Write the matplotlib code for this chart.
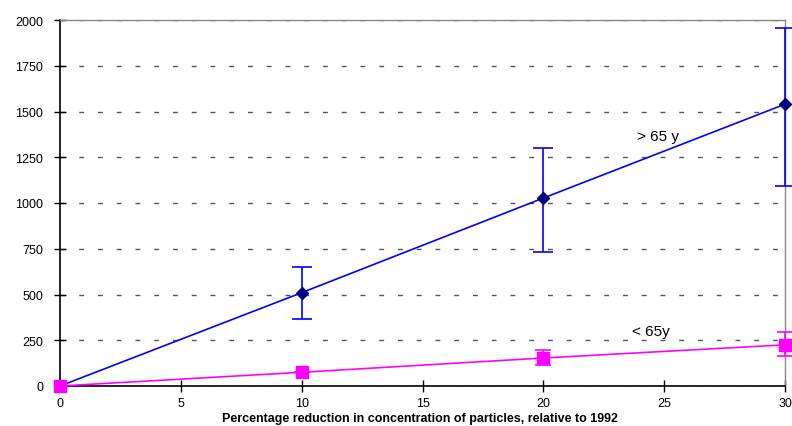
import matplotlib
matplotlib.use("Agg")
import matplotlib.pyplot as plt

# Reduction in particle concentration (%) and estimated effects by age group
reduction = [0, 10, 20, 30]
over65 = [0, 510, 1027, 1540]
over65_lo = [0, 365, 730, 1095]
over65_hi = [0, 650, 1300, 1955]
under65 = [0, 75, 153, 225]
under65_lo = [0, 75, 115, 163]
under65_hi = [0, 75, 197, 295]

xticks = [0, 5, 10, 15, 20, 25, 30]
yticks = [0, 250, 500, 750, 1000, 1250, 1500, 1750, 2000]

plt.rcParams['font.family'] = ['Liberation Sans', 'DejaVu Sans']

fig = plt.figure(figsize=(7.92, 4.27), dpi=100)
ax = fig.add_axes([60 / 792, 40 / 427, 725 / 792, 366 / 427])

def err(vals, lo, hi):
    return [[v - l for v, l in zip(vals, lo)], [h - v for v, h in zip(vals, hi)]]

# Trend lines
ax.plot(reduction, over65, color='#0000FF', lw=1.2, zorder=3, clip_on=False)
ax.plot(reduction, under65, color='#FF00FF', lw=1.2, zorder=3, clip_on=False)

# Error bars
eb1 = ax.errorbar(reduction[1:], over65[1:], yerr=err(over65[1:], over65_lo[1:], over65_hi[1:]),
                  fmt='none', ecolor='#0000FF', elinewidth=1.2, capsize=7, capthick=1.2,
                  zorder=4)
eb2 = ax.errorbar(reduction[1:], under65[1:], yerr=err(under65[1:], under65_lo[1:], under65_hi[1:]),
                  fmt='none', ecolor='#FF00FF', elinewidth=1.2, capsize=6, capthick=1.2,
                  zorder=4)
for eb in (eb1, eb2):
    for art in list(eb.lines[1]) + list(eb.lines[2]):
        art.set_clip_on(False)

# Markers
ax.plot(reduction, over65, linestyle='none', marker='D', markersize=6,
        color='#000080', zorder=5, clip_on=False)
ax.plot(reduction, under65, linestyle='none', marker='s', markersize=8,
        color='#FF00FF', zorder=5, clip_on=False)

ax.set_xlim(0, 30)
ax.set_ylim(0, 2000)
ax.set_xticks(xticks)
ax.set_yticks(yticks)
ax.set_xticklabels([str(t) for t in xticks], fontsize=9)
ax.set_yticklabels([str(t) for t in yticks], fontsize=9)
ax.tick_params(axis='both', direction='inout', length=8, width=1, colors='black')
ax.tick_params(axis='x', pad=4)
ax.tick_params(axis='y', pad=8)

ax.grid(axis='y', color='#555555', linestyle=(0, (3.5, 10)), linewidth=1)
ax.set_axisbelow(True)

for side in ('left', 'bottom'):
    ax.spines[side].set_color('black')
    ax.spines[side].set_linewidth(1.2)
for side in ('top', 'right'):
    ax.spines[side].set_color('#888888')
    ax.spines[side].set_linewidth(1)

fig.text(420 / 792, 8 / 427,
         'Percentage reduction in concentration of particles, relative to 1992',
         fontsize=9, fontweight='bold', ha='center', va='center')

ax.text(24.75, 1366, '> 65 y', fontsize=11, ha='center', va='center')
ax.text(24.45, 300, '< 65y', fontsize=11, ha='center', va='center')

fig.savefig('out.png', dpi=100)
